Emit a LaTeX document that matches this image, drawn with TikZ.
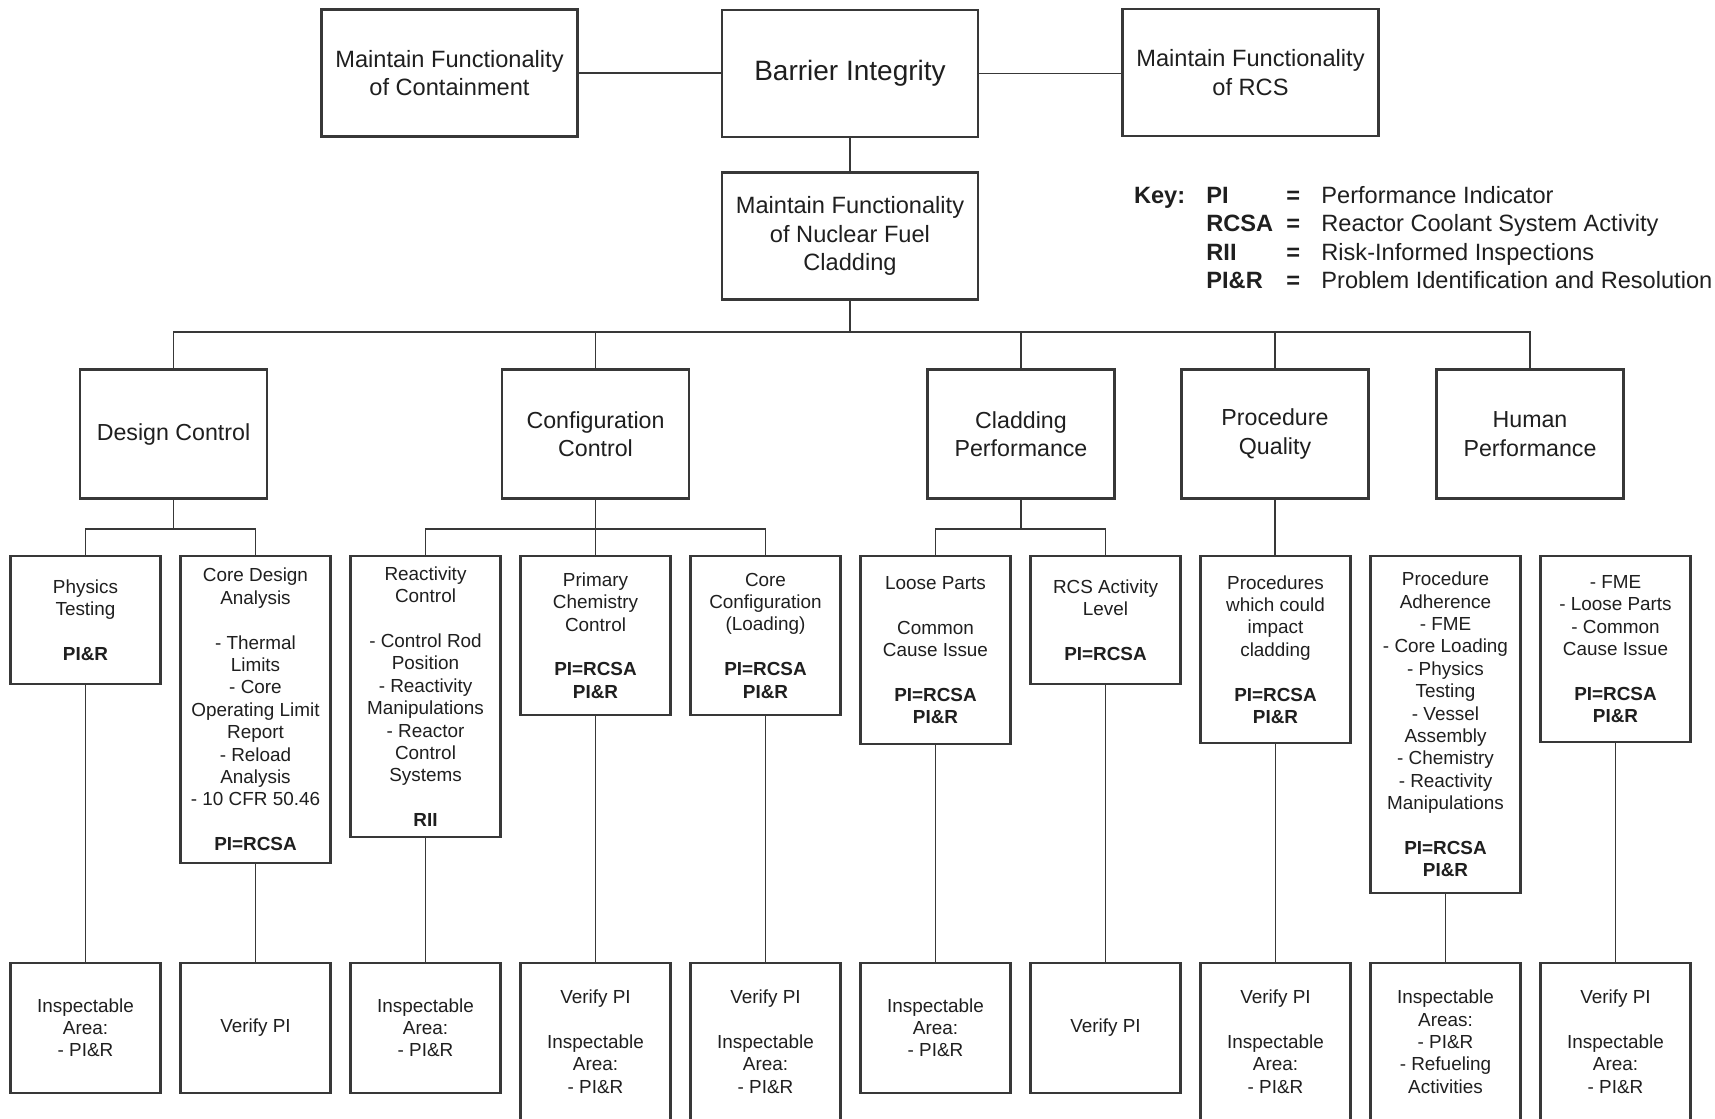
\documentclass[tikz,border=0pt]{standalone}
\usepackage{fontspec}
\setmainfont{Liberation Sans}
\begin{document}
\begin{tikzpicture}[x=0.5pt,y=-0.5pt,
  box/.style={draw=black!78, line width=1.1pt, fill=white, inner sep=2pt, align=center, text=black!88},
  topbox/.style={box, minimum width=128pt, minimum height=63.5pt, font=\fontsize{11.8}{14.3}\selectfont},
  midbox/.style={box, minimum width=93.5pt, minimum height=64.5pt, font=\fontsize{11.6}{14.2}\selectfont},
  smallbox/.style={box, anchor=north, minimum width=75pt, font=\fontsize{9.45}{11.2}\selectfont},
  keytxt/.style={inner sep=0pt, anchor=base west, text=black!88, font=\fontsize{11.8}{14.2}\selectfont},
  keyb/.style={keytxt, font=\fontsize{11.8}{14.2}\selectfont\bfseries},
  conn/.style={draw=black!78, line width=0.8pt}
]
\useasboundingbox (0,0) rectangle (1715,1119);

% top row
\node[topbox] (cont) at (449.5,73) {Maintain Functionality\\of Containment};
\node[topbox, font=\fontsize{14}{17}\selectfont] (bar) at (850,73.5) {Barrier Integrity};
\node[topbox] (rcs) at (1250.5,72.7) {Maintain Functionality\\of RCS};
\node[topbox] (fuel) at (850,236) {Maintain Functionality\\of Nuclear Fuel\\Cladding};

\draw[conn] (cont.east) -- (cont.east -| bar.west);
\draw[conn] (bar.east) -- (bar.east -| rcs.west);
\draw[conn] (bar) -- (fuel);

% key
\node[keyb] (key) at (1133.6,203.5) {Key:};
\node[keyb] (k1) at (1206,203.5) {PI};
\node[keyb] (k1e) at (1286,203.5) {=};
\node[keytxt] (k1d) at (1321,203.5) {Performance Indicator};
\node[keyb] (k2) at (1206,231.8) {RCSA};
\node[keyb] (k2e) at (1286,231.8) {=};
\node[keytxt] (k2d) at (1321,231.8) {Reactor Coolant System Activity};
\node[keyb] (k3) at (1206,260.1) {RII};
\node[keyb] (k3e) at (1286,260.1) {=};
\node[keytxt] (k3d) at (1321,260.1) {Risk-Informed Inspections};
\node[keyb] (k4) at (1206,288.4) {PI\&R};
\node[keyb] (k4e) at (1286,288.4) {=};
\node[keytxt] (k4d) at (1321,288.4) {Problem Identification and Resolution};

% level 2
\node[midbox] (dc) at (173.5,434) {Design Control};
\node[midbox] (cc) at (595.5,434) {Configuration\\Control};
\node[midbox] (cp) at (1021,434) {Cladding\\Performance};
\node[midbox] (pq) at (1275,434) {Procedure\\Quality};
\node[midbox] (hp) at (1530,434) {Human\\Performance};

\coordinate (bus) at (850,331.7);
\draw[conn] (fuel.south) -- (bus);
\draw[conn] (dc.north) |- (bus);
\draw[conn] (cc.north) |- (bus);
\draw[conn] (cp.north) |- (bus);
\draw[conn] (pq.north) |- (bus);
\draw[conn] (hp.north) |- (bus);

% level 3
\node[smallbox, minimum height=64pt] (pt) at (85.5,555) {Physics\\Testing\\[11.2pt]\textbf{PI\&R}};
\node[smallbox, minimum height=153.5pt] (cda) at (255.5,555) {Core Design\\Analysis\\[11.2pt]- Thermal\\Limits\\- Core\\Operating Limit\\Report\\- Reload\\Analysis\\- 10 CFR 50.46\\[11.2pt]\textbf{PI=RCSA}};
\node[smallbox, minimum height=140.5pt] (rc) at (425.5,555) {Reactivity\\Control\\[11.2pt]- Control Rod\\Position\\- Reactivity\\Manipulations\\- Reactor\\Control\\Systems\\[11.2pt]\textbf{RII}};
\node[smallbox, minimum height=79.5pt] (pcc) at (595.5,555) {Primary\\Chemistry\\Control\\[11.2pt]\textbf{PI=RCSA}\\\textbf{PI\&R}};
\node[smallbox, minimum height=79.5pt] (ccl) at (765.5,555) {Core\\Configuration\\(Loading)\\[11.2pt]\textbf{PI=RCSA}\\\textbf{PI\&R}};
\node[smallbox, minimum height=94pt] (lp) at (935.5,555) {Loose Parts\\[11.2pt]Common\\Cause Issue\\[11.2pt]\textbf{PI=RCSA}\\\textbf{PI\&R}};
\node[smallbox, minimum height=64pt] (rcsa) at (1105.5,555) {RCS Activity\\Level\\[11.2pt]\textbf{PI=RCSA}};
\node[smallbox, minimum height=93.5pt] (pwc) at (1275.5,555) {Procedures\\which could\\impact\\cladding\\[11.2pt]\textbf{PI=RCSA}\\\textbf{PI\&R}};
\node[smallbox, minimum height=168.5pt] (pa) at (1445.5,555) {Procedure\\Adherence\\- FME\\- Core Loading\\- Physics\\Testing\\- Vessel\\Assembly\\- Chemistry\\- Reactivity\\Manipulations\\[11.2pt]\textbf{PI=RCSA}\\\textbf{PI\&R}};
\node[smallbox, minimum height=93pt] (fme) at (1615.5,555) {- FME\\- Loose Parts\\- Common\\Cause Issue\\[11.2pt]\textbf{PI=RCSA}\\\textbf{PI\&R}};

\coordinate (dcb) at (173.5,529);
\draw[conn] (dc.south) -- (dcb);
\draw[conn] (pt.north) |- (dcb);
\draw[conn] (cda.north) |- (dcb);
\coordinate (ccb) at (595.5,529);
\draw[conn] (cc.south) -- (pcc.north);
\draw[conn] (rc.north) |- (ccb);
\draw[conn] (ccl.north) |- (ccb);
\coordinate (cpb) at (1021,529);
\draw[conn] (cp.south) -- (cpb);
\draw[conn] (lp.north) |- (cpb);
\draw[conn] (rcsa.north) |- (cpb);
\draw[conn] (pq.south) -- (pq.south |- pwc.north);

% level 4
\node[smallbox, minimum height=65pt] (b1) at (85.5,961.7) {Inspectable\\Area:\\- PI\&R};
\node[smallbox, minimum height=65pt] (b2) at (255.5,961.7) {Verify PI};
\node[smallbox, minimum height=65pt] (b3) at (425.5,961.7) {Inspectable\\Area:\\- PI\&R};
\node[smallbox, minimum height=79pt] (b4) at (595.5,961.7) {Verify PI\\[11.2pt]Inspectable\\Area:\\- PI\&R};
\node[smallbox, minimum height=79pt] (b5) at (765.5,961.7) {Verify PI\\[11.2pt]Inspectable\\Area:\\- PI\&R};
\node[smallbox, minimum height=65pt] (b6) at (935.5,961.7) {Inspectable\\Area:\\- PI\&R};
\node[smallbox, minimum height=65pt] (b7) at (1105.5,961.7) {Verify PI};
\node[smallbox, minimum height=79pt] (b8) at (1275.5,961.7) {Verify PI\\[11.2pt]Inspectable\\Area:\\- PI\&R};
\node[smallbox, minimum height=79pt] (b9) at (1445.5,961.7) {Inspectable\\Areas:\\- PI\&R\\- Refueling\\Activities};
\node[smallbox, minimum height=79pt] (b10) at (1615.5,961.7) {Verify PI\\[11.2pt]Inspectable\\Area:\\- PI\&R};

\draw[conn] (pt) -- (b1);
\draw[conn] (cda) -- (b2);
\draw[conn] (rc) -- (b3);
\draw[conn] (pcc) -- (b4);
\draw[conn] (ccl) -- (b5);
\draw[conn] (lp) -- (b6);
\draw[conn] (rcsa) -- (b7);
\draw[conn] (pwc) -- (b8);
\draw[conn] (pa) -- (b9);
\draw[conn] (fme) -- (b10);
\end{tikzpicture}
\end{document}
